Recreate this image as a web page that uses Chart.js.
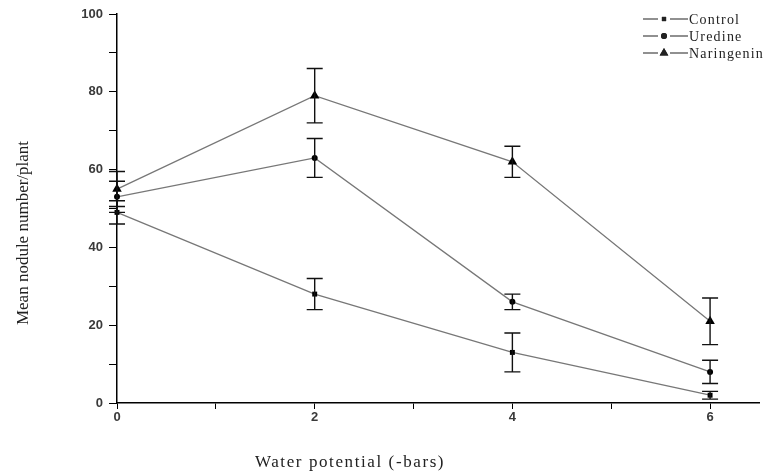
<!DOCTYPE html>
<html>
<head>
<meta charset="utf-8">
<script src="https://cdn.jsdelivr.net/npm/chart.js@4/dist/chart.umd.min.js"></script>
<style>
  html, body { margin: 0; padding: 0; background: #fff; }
  #wrap { width: 765px; height: 475px; position: relative; }
</style>
</head>
<body>
<div id="wrap"><canvas id="chart"></canvas></div>
<script>
// Water potential (-bars)
const potentials = [0, 2, 4, 6];

const controlMean = [49, 28, 13, 2];
const controlErr = [3, 4, 5, 1];

const uredineMean = [53, 63, 26, 8];
const uredineErr = [4, 5, 2, 3];

const naringeninMean = [55, 79, 62, 21];
const naringeninErr = [4.5, 7, 4, 6];

const seriesNames = ['Control', 'Uredine', 'Naringenin'];
const yTicks = [0, 20, 40, 60, 80, 100];
const xTicks = [0, 2, 4, 6];

const toPoints = (ys, errs) => ys.map((y, i) => ({ x: potentials[i], y, err: errs[i] }));

const serif = '"Liberation Serif", "DejaVu Serif", serif';
const sans = '"Liberation Sans", Arial, sans-serif';

// error bars, drawn through the scales
const errorBars = {
  id: 'errorBars',
  afterDatasetsDraw(chart) {
    const { ctx, scales: { x, y } } = chart;
    ctx.save();
    ctx.strokeStyle = '#111';
    ctx.lineWidth = 1.4;
    chart.data.datasets.forEach(ds => {
      ds.data.forEach(p => {
        const px = x.getPixelForValue(p.x);
        const top = y.getPixelForValue(p.y + p.err);
        const bot = y.getPixelForValue(p.y - p.err);
        const hw = 8;
        ctx.beginPath();
        ctx.moveTo(px, top); ctx.lineTo(px, bot);
        ctx.moveTo(px - hw, top); ctx.lineTo(px + hw, top);
        ctx.moveTo(px - hw, bot); ctx.lineTo(px + hw, bot);
        ctx.stroke();
      });
    });
    ctx.restore();
  }
};

// axis titles + legend in the style of the original figure
const extras = {
  id: 'extras',
  afterDraw(chart) {
    const { ctx } = chart;
    ctx.save();
    ctx.fillStyle = '#222';
    ctx.font = '17px ' + serif;
    ctx.textAlign = 'center';
    ctx.textBaseline = 'middle';
    ctx.letterSpacing = '1.6px';
    ctx.fillText('Water potential (-bars)', 350, 463);
    ctx.letterSpacing = '0px';
    ctx.translate(24, 233);
    ctx.rotate(-Math.PI / 2);
    ctx.fillText('Mean nodule number/plant', 0, 0);
    ctx.restore();

    // legend
    const styles = ['rect', 'circle', 'triangle'];
    const radii = [3, 3, 5];
    ctx.save();
    ctx.font = '14px ' + serif;
    ctx.letterSpacing = '1.2px';
    ctx.textBaseline = 'middle';
    ctx.fillStyle = '#222';
    seriesNames.forEach((name, i) => {
      const yy = 19 + i * 17;
      ctx.strokeStyle = '#222';
      ctx.lineWidth = 1.2;
      ctx.beginPath();
      ctx.moveTo(643, yy); ctx.lineTo(658, yy);
      ctx.moveTo(670, yy); ctx.lineTo(688, yy);
      ctx.stroke();
      Chart.helpers.drawPoint(ctx, { pointStyle: styles[i], radius: radii[i], borderWidth: 0 }, 664, yy);
      ctx.fill();
      ctx.fillText(name, 689, yy + 1);
    });
    ctx.restore();
  }
};

const lineDs = (label, data, style, radius) => ({
  label,
  data,
  borderColor: '#777',
  borderWidth: 1.3,
  backgroundColor: '#000',
  pointBackgroundColor: '#000',
  pointBorderColor: '#000',
  pointBorderWidth: 0,
  pointStyle: style,
  pointRadius: radius,
  tension: 0,
  clip: false
});

new Chart(document.getElementById('chart'), {
  type: 'line',
  data: {
    datasets: [
      lineDs('Control', toPoints(controlMean, controlErr), 'rect', 3.5),
      lineDs('Uredine', toPoints(uredineMean, uredineErr), 'circle', 3),
      lineDs('Naringenin', toPoints(naringeninMean, naringeninErr), 'triangle', 5.5)
    ]
  },
  options: {
    responsive: true,
    maintainAspectRatio: false,
    animation: false,
    layout: { padding: { left: 0, top: 14, right: 5, bottom: 50 } },
    plugins: { legend: { display: false }, tooltip: { enabled: false } },
    scales: {
      x: {
        type: 'linear',
        min: 0,
        max: 6.5,
        afterBuildTicks: s => { s.ticks = [0, 1, 2, 3, 4, 5, 6].map(v => ({ value: v })); },
        afterFit: s => { s.height = 22; },
        border: { color: '#000', width: 1.5 },
        grid: { drawOnChartArea: false, tickLength: 6, color: '#000', tickColor: '#000' },
        ticks: {
          color: '#3a3a3a',
          font: { family: sans, size: 13, weight: 'bold' },
          padding: 1,
          maxRotation: 0,
          callback: v => xTicks.includes(v) ? String(v) : ''
        }
      },
      y: {
        min: 0,
        max: 100,
        afterBuildTicks: s => { s.ticks = [0, 10, 20, 30, 40, 50, 60, 70, 80, 90, 100].map(v => ({ value: v })); },
        afterFit: s => { s.width = 117; },
        border: { color: '#000', width: 1.5 },
        grid: { drawOnChartArea: false, tickLength: 8, color: '#000', tickColor: '#000' },
        ticks: {
          color: '#3a3a3a',
          font: { family: sans, size: 13, weight: 'bold' },
          padding: 6,
          callback: v => yTicks.includes(v) ? String(v) : ''
        }
      }
    }
  },
  plugins: [errorBars, extras]
});
</script>
</body>
</html>
